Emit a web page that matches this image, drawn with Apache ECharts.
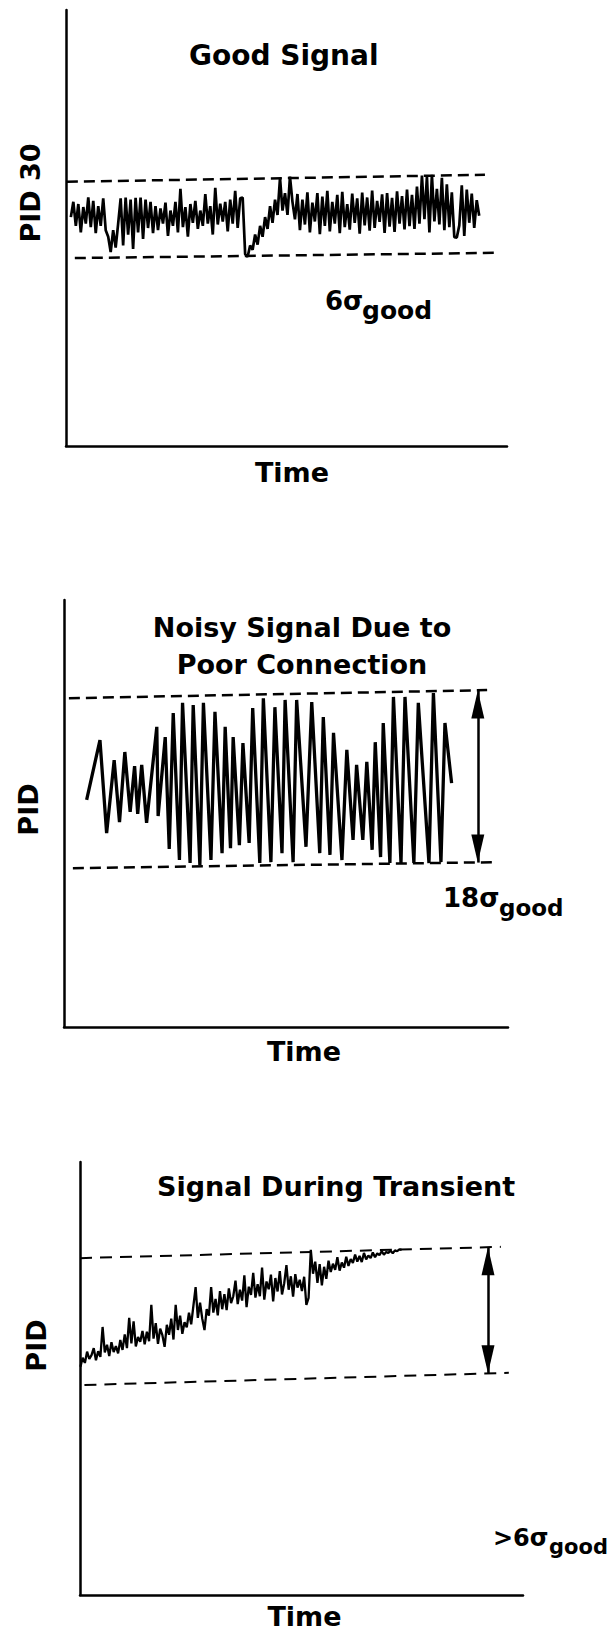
<!DOCTYPE html>
<html>
<head>
<meta charset="utf-8">
<title>PID signal quality</title>
<script src="https://cdn.jsdelivr.net/npm/echarts@6.0.0/dist/echarts.min.js"></script>
<style>
  html, body { margin: 0; padding: 0; background: #fff; }
  #chart-container { width: 616px; height: 1633px; }
</style>
</head>
<body>
<div id="chart-container"></div>
<script>
// --- panel 1: good signal (PID 30), evenly sampled between goodStart and goodEnd
const goodStart = 1.1;
const goodEnd = 93.7;
const goodValues = [
  52.5, 56.0, 50.5, 55.5, 49.0, 54.8, 51.0, 57.0, 50.2, 56.2, 48.8, 55.0, 50.5, 56.8, 49.5,
  48.0, 44.5, 49.5, 45.5, 51.0,
  56.8, 46.0, 57.0, 48.5, 56.5, 45.2, 56.9, 49.0, 57.0, 47.5, 56.5, 50.0, 56.0, 48.8, 55.0,
  49.5, 54.5, 51.0, 55.8, 48.2, 54.0, 50.5, 56.0, 49.0, 59.0, 50.2, 54.8, 48.0, 55.5, 51.2,
  56.2, 49.8, 54.0, 50.5, 57.8, 51.0, 55.0, 48.5, 59.2, 50.8, 55.6, 51.5, 56.0, 49.2, 56.5,
  51.0, 58.5, 50.0, 56.8, 57.0,
  44.0, 43.4, 46.0,
  45.0, 48.5, 46.2, 50.5, 48.0, 52.5, 49.8, 55.0, 51.2, 56.5, 53.0, 61.5, 54.0, 58.0, 53.0, 61.8,
  56.0, 52.0, 57.8, 49.5, 56.5, 50.8, 58.2, 49.0, 55.8, 51.5,
  58.0, 48.6, 57.2, 50.5, 58.5, 49.2, 56.0, 51.0, 57.6, 48.8,
  58.3, 50.2, 55.5, 49.6, 57.9, 51.2, 56.8, 48.7, 58.1, 50.6,
  57.0, 49.4, 58.6, 50.0, 56.2, 51.4, 57.7, 48.9, 58.0, 50.3,
  56.9, 49.1, 58.4, 51.0, 57.3, 49.7, 58.8, 50.4, 57.6, 49.8,
  59.5, 51.0, 62.0, 52.0, 61.8, 49.0, 62.2, 51.5, 59.0, 50.8,
  61.5, 49.5, 60.0, 50.2, 58.2, 47.9, 47.8, 50.6, 59.8, 48.2,
  58.8, 51.2, 57.9, 50.0, 56.4, 52.8
];
const goodUpper = [[0.2, 60.6], [95.0, 62.2]];
const goodLower = [[2.0, 43.1], [97.3, 44.3]];

// --- panel 2: noisy signal due to poor connection (turning points)
const noisyTime = [
  5.1, 8.1, 9.6, 11.3, 12.5, 13.7, 14.9, 15.9, 16.6, 17.5,
  18.6, 20.9, 21.2, 22.8, 23.7, 24.6, 26.0, 26.7, 28.4, 29.1,
  30.6, 31.4, 33.1, 34.0, 35.6, 36.3, 37.5, 38.1, 39.5, 40.3,
  41.7, 42.5, 44.1, 44.9, 46.6, 47.5, 49.1, 49.8, 51.6, 52.4,
  54.5, 55.8, 57.6, 58.4, 59.9, 60.7, 62.6, 63.7, 65.1, 65.9,
  67.3, 68.2, 69.4, 70.1, 71.3, 71.9, 73.4, 74.2, 75.9, 76.8,
  78.8, 79.8, 82.2, 83.2, 84.9, 85.8, 87.3
];
const noisyValues = [
  53.2, 67.2, 45.4, 62.5, 48.0, 64.4, 50.4, 61.1, 49.9, 61.4,
  47.8, 70.3, 49.4, 67.9, 41.7, 73.5, 39.1, 75.9, 38.4, 75.4,
  37.9, 75.9, 39.1, 73.8, 40.7, 70.3, 41.9, 67.9, 42.6, 66.5,
  43.1, 74.7, 38.4, 77.0, 38.6, 74.9, 40.7, 76.6, 38.6, 76.6,
  42.2, 76.1, 40.7, 72.6, 40.3, 68.9, 39.1, 64.9, 43.8, 61.4,
  43.8, 62.1, 41.5, 66.7, 39.8, 71.2, 38.4, 77.3, 38.4, 77.3,
  38.4, 75.9, 38.4, 78.2, 38.6, 71.2, 57.1
];
const noisyUpper = [[1.1, 77.0], [95.3, 78.9]];
const noisyLower = [[2.0, 37.2], [97.1, 38.6]];
const noisySpan = [[93.2, 78.8], [93.2, 38.5]];

// --- panel 3: signal during transient, evenly sampled
const transStart = 0.1;
const transEnd = 72.6;
const transValues = [
  52.7, 54.8, 53.6, 56.2, 54.5, 55.4, 57.0, 54.2, 56.3, 55.0,
  61.9, 56.0, 57.8, 55.2, 58.4, 56.1, 57.5, 55.8, 58.9, 56.6,
  60.2, 57.0, 64.0, 58.1, 63.2, 57.4, 59.6, 58.5, 61.0, 57.9,
  60.8, 58.6, 67.0, 59.2, 62.8, 58.0, 61.5, 60.0, 57.3, 62.4,
  60.1, 63.8, 59.0, 67.0, 61.2, 64.5, 60.3, 63.0, 61.8, 65.2,
  62.5, 66.8, 71.1, 64.0, 67.5, 63.8, 61.2, 66.0, 64.5, 71.1,
  65.2, 68.4, 64.6, 70.2, 66.0, 69.5, 65.8, 70.8, 67.4, 69.0,
  72.6, 67.2, 70.5, 68.0, 73.8, 66.5, 71.2, 69.3, 74.4, 68.7,
  71.8, 69.0, 75.6, 68.2, 72.4, 70.6, 74.0, 67.8, 73.2, 70.1,
  74.8, 69.4, 72.0, 76.2, 70.5, 73.6, 68.9, 74.1, 71.0, 72.8,
  70.2, 73.5, 67.0, 68.6, 79.7, 74.2, 77.0, 72.1, 76.4, 71.5,
  75.8, 73.0, 77.2, 74.6, 76.5, 75.1, 78.0, 74.9, 76.8, 75.6,
  78.1, 76.0, 77.6, 76.7, 78.6, 77.0, 78.3, 76.9, 79.0, 77.5,
  78.4, 77.8, 79.1, 78.0, 78.9, 78.5, 79.4, 78.6, 79.2, 79.0,
  79.5, 78.9, 79.6, 79.4, 79.8, 79.7
];
const transUpper = [[0.0, 77.8], [95.0, 80.4]];
const transLower = [[1.0, 48.5], [96.8, 51.3]];
const transSpan = [[92.1, 80.3], [92.1, 51.2]];

const panelTitles = ['Good Signal', 'Noisy Signal Due to\nPoor Connection', 'Signal During Transient'];
const yNames = ['PID 30', 'PID', 'PID'];
const spreadLabels = [['6σ', 'good'], ['18σ', 'good'], ['>6σ', 'good']];

const FONT = 'DejaVu Sans';
const txt = (size, extra) => Object.assign({ fontFamily: FONT, fontWeight: 'bold', fontSize: size, color: '#000' }, extra || {});

const sampleTimes = (t0, t1, n) => Array.from({ length: n }, (_, i) => t0 + (t1 - t0) * i / (n - 1));
const pairs = (ts, vs) => vs.map((v, i) => [ts[i], v]);

const start = () => {
  const chartDom = document.getElementById('chart-container');
  const myChart = echarts.init(chartDom, null, { renderer: 'svg' });

  const grids = [
    { left: 66, top: 10, width: 441, height: 436 },
    { left: 64, top: 600, width: 444, height: 427 },
    { left: 80, top: 1162, width: 443, height: 433 }
  ];
  const timeGap = [13, 11, 8];
  const timePad = [[0, 0, 0, 11], [0, 0, 0, 36], [0, 0, 0, 6]];
  const pidGap = [22, 22, 30];
  const pidPad = [[0, 0, 0, 70], [0, 0, 0, 8], [0, 0, 0, 66]];

  const xAxis = grids.map((g, i) => ({
    gridIndex: i, type: 'value', min: 0, max: 100,
    name: 'Time', nameLocation: 'middle', nameGap: timeGap[i],
    nameTextStyle: txt(27, { padding: timePad[i] }),
    axisLine: { onZero: false, lineStyle: { color: '#000', width: 2.5 } },
    axisTick: { show: false }, axisLabel: { show: false }, splitLine: { show: false }
  }));
  const yAxis = grids.map((g, i) => ({
    gridIndex: i, type: 'value', min: 0, max: 100,
    name: yNames[i], nameLocation: 'middle', nameGap: pidGap[i],
    nameTextStyle: txt(27, { padding: pidPad[i] }),
    axisLine: { onZero: false, lineStyle: { color: '#000', width: 2.5 } },
    axisTick: { show: false }, axisLabel: { show: false }, splitLine: { show: false }
  }));

  const line = (i, data, width, dash) => ({
    type: 'line', xAxisIndex: i, yAxisIndex: i, data: data,
    symbol: 'none', silent: true,
    lineStyle: { color: '#000', width: width, type: dash || 'solid' }
  });

  const head = 'path://M0,30 L5,0 L10,30 Z';
  const arrow = (span) => ({
    silent: true, symbol: [head, head],
    label: { show: false },
    lineStyle: { color: '#000', width: 2.5, type: 'solid' },
    data: [[
      { coord: span[0], symbolSize: [13, 28], symbolOffset: [0, 14] },
      { coord: span[1], symbolSize: [13, 28], symbolOffset: [0, 14] }
    ]]
  });

  const goodTimes = sampleTimes(goodStart, goodEnd, goodValues.length);
  const transTimes = sampleTimes(transStart, transEnd, transValues.length);

  const noisyUpperSeries = line(1, noisyUpper, 2.5, [11, 6]);
  noisyUpperSeries.markLine = arrow(noisySpan);
  const transUpperSeries = line(2, transUpper, 2, [12, 8]);
  transUpperSeries.markLine = arrow(transSpan);

  const titles = [
    { text: panelTitles[0], left: 184, top: 36, textStyle: txt(28) },
    { text: panelTitles[1], left: 297, top: 604, textAlign: 'center', textStyle: txt(27, { lineHeight: 37 }) },
    { text: panelTitles[2], left: 152, top: 1168, textStyle: txt(27) },
    { text: spreadLabels[0][0], left: 320, top: 283, textStyle: txt(26) },
    { text: spreadLabels[0][1], left: 357, top: 293, textStyle: txt(25) },
    { text: spreadLabels[1][0], left: 438, top: 880, textStyle: txt(26) },
    { text: spreadLabels[1][1], left: 494, top: 891, textStyle: txt(23) },
    { text: spreadLabels[2][0], left: 488, top: 1521, textStyle: txt(24) },
    { text: spreadLabels[2][1], left: 544, top: 1531, textStyle: txt(21) }
  ];

  const option = {
    animation: false,
    backgroundColor: '#fff',
    title: titles,
    grid: grids,
    xAxis: xAxis,
    yAxis: yAxis,
    series: [
      line(0, pairs(goodTimes, goodValues), 2.7),
      line(0, goodUpper, 2.5, [11, 6]),
      line(0, goodLower, 2.5, [11, 6]),
      line(1, pairs(noisyTime, noisyValues), 3.3),
      noisyUpperSeries,
      line(1, noisyLower, 2.5, [11, 6]),
      line(2, pairs(transTimes, transValues), 2.3),
      transUpperSeries,
      line(2, transLower, 2, [12, 8])
    ]
  };
  myChart.setOption(option);
};

start();
</script>
</body>
</html>
